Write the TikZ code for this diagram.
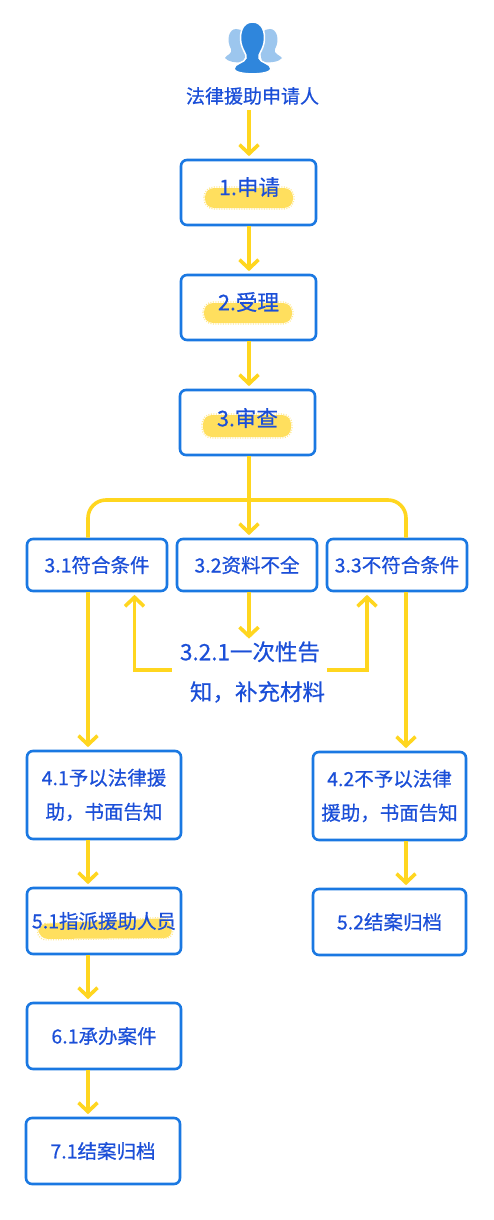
\documentclass[tikz,border=0pt]{standalone}
\usepackage{fontspec}
\setmainfont[RawFeature={embolden=0.6}]{Noto Sans CJK SC}
\usetikzlibrary{arrows.meta,positioning,calc}
\definecolor{boxblue}{HTML}{1A78E2}
\definecolor{textblue}{HTML}{1B4FD8}
\definecolor{flowyellow}{HTML}{FFD61F}
\definecolor{markyellow}{HTML}{FFDF5E}
\definecolor{iconblue}{HTML}{2F86DC}
\definecolor{iconpale}{HTML}{9CC6EE}
\tikzset{
  x=1pt,y=-1pt,
  flowbox/.style={draw=boxblue,line width=2.6pt,rounded corners=6pt,text=textblue,align=center,inner sep=0pt},
  free/.style={text=textblue,align=center,inner sep=0pt},
  hilite/.style={fill=markyellow,rounded corners=9pt},
  fuzz/.style={draw=markyellow!70,line width=1.2pt,dash pattern=on 1pt off 1.5pt,rounded corners=10pt},
  flow/.style={draw=flowyellow,line width=3.6pt,shorten >=2.5pt,-{Straight Barb[length=9pt,width=19pt,line width=3.6pt]}},
  plain/.style={draw=flowyellow,line width=3.6pt},
  big/.style={font=\fontsize{21.5}{21.5}\selectfont},
  mid/.style={font=\fontsize{19.5}{34}\selectfont},
}
\newcommand{\bx}[7][mid]{\node[flowbox,minimum width=#5 pt,minimum height=#6 pt,#1] (#2) at (#3,#4) {}; \node[free,#1] (#2t) at (#2) {#7};}
\begin{document}
\begin{tikzpicture}
\useasboundingbox (0,0) rectangle (494,1220);
\fill[white] (0,0) rectangle (494,1220);
% person icon
\fill[iconpale] (236,29) .. controls (229,29) and (226,40) .. (231,49) .. controls (233,54) and (226,55) .. (225,58) .. controls (228,62) and (236,63) .. (244,62) -- (248,40) .. controls (246,33) and (242,29) .. (236,29) -- cycle;
\fill[iconpale] (270,29) .. controls (277,29) and (280,40) .. (275,49) .. controls (273,54) and (280,55) .. (282,58) .. controls (279,62) and (270,63) .. (262,62) -- (258,40) .. controls (260,33) and (264,29) .. (270,29) -- cycle;
\path[fill=iconblue,draw=white,line width=1.5pt] (252.5,22) .. controls (243,22) and (239,32) .. (241,43) .. controls (243,52) and (247,54) .. (246,58) .. controls (245,63) and (234,63) .. (234,69) .. controls (235,75.5) and (270,75.5) .. (271,69) .. controls (271,63) and (260,63) .. (259,58) .. controls (258,54) and (262,52) .. (264,43) .. controls (266,32) and (262,22) .. (252.5,22) -- cycle;
% highlights
\fill[hilite] (205,188) rectangle (293,208);
\draw[fuzz] (204,187) rectangle (294,209);
\fill[hilite] (204,303) rectangle (292,323);
\draw[fuzz] (203,302) rectangle (293,324);
\fill[hilite] (203,415) rectangle (291,437);
\draw[fuzz] (202,414) rectangle (292,438);
\fill[hilite] (38,924) -- (170,918) -- (173,938) -- (39,939) -- cycle;
\draw[fuzz,rounded corners=8pt] (37,924) -- (171,917) -- (174,938) -- (38,940) -- cycle;
% label
\node[free,font=\fontsize{19}{19}\selectfont] (app) at (252.5,96) {法律援助申请人};
% boxes
\node[flowbox,big,minimum width=135pt,minimum height=65pt] (b1) at (248.5,192.5) {}; \node[free,big] (b1t) at (249.5,187) {1.申请};
\node[flowbox,big,minimum width=135pt,minimum height=65pt] (b2) at (248.5,307.5) {}; \node[free,big] (b2t) at (248.5,302) {2.受理};
\node[flowbox,big,minimum width=135pt,minimum height=65pt] (b3) at (247.5,422.5) {}; \node[free,big] (b3t) at (247.5,418) {3.审查};
\bx{b31}{97}{565}{140}{52}{3.1符合条件}
\bx{b32}{247}{565}{140}{52}{3.2资料不全}
\bx{b33}{397}{565}{140}{52}{3.3不符合条件}
\node[free,font=\fontsize{22.5}{40}\selectfont] (n321) at (254,672) {\hspace*{-8pt}3.2.1一次性告\\\hspace*{7pt}知，补充材料};
\bx{b41}{104}{795}{154}{88}{4.1予以法律援\\助，书面告知}
\bx{b42}{389.5}{796}{153}{88}{4.2不予以法律\\援助，书面告知}
\bx{b51}{104}{921}{154}{66}{5.1指派援助人员}
\bx{b52}{389.5}{922}{153}{66}{5.2结案归档}
\bx{b61}{104}{1036}{154}{66}{6.1承办案件}
\bx{b71}{103}{1151}{154}{66}{7.1结案归档}
% routing guides
\coordinate (cl) at (88,500);
\coordinate (cr) at (406,500);
\coordinate (cm) at (249,500);
\coordinate (fl) at (134.5,0);
\coordinate (fr) at (367,0);
\coordinate (fy) at (0,670);
% connectors
\draw[flow] (cm |- app.south) ++(0,5) -- (cm |- b1.north) ;
\draw[flow] (cm |- b1.south) -- (cm |- b2.north);
\draw[flow] (cm |- b2.south) -- (cm |- b3.north);
\draw[flow] (cm |- b3.south) -- (cm |- b32.north);
\draw[plain,rounded corners=18pt] (cl |- b31.north) -- (cl) -- (cr) -- (cr |- b33.north);
\draw[flow] (cm |- b32.south) -- (cm |- n321.north);
\draw[flow] (n321.west |- fy) ++(-11,0) -- (fl |- fy) -- (fl |- b31.south);
\draw[flow] (n321.east |- fy) ++(2,0) -- (fr |- fy) -- (fr |- b33.south);
\draw[flow] (cl |- b31.south) -- (cl |- b41.north);
\draw[flow] (cr |- b33.south) -- (cr |- b42.north);
\draw[flow] (cl |- b41.south) -- (cl |- b51.north);
\draw[flow] (cl |- b51.south) -- (cl |- b61.north);
\draw[flow] (cl |- b61.south) -- (cl |- b71.north);
\draw[flow] (cr |- b42.south) -- (cr |- b52.north);
\end{tikzpicture}
\end{document}
